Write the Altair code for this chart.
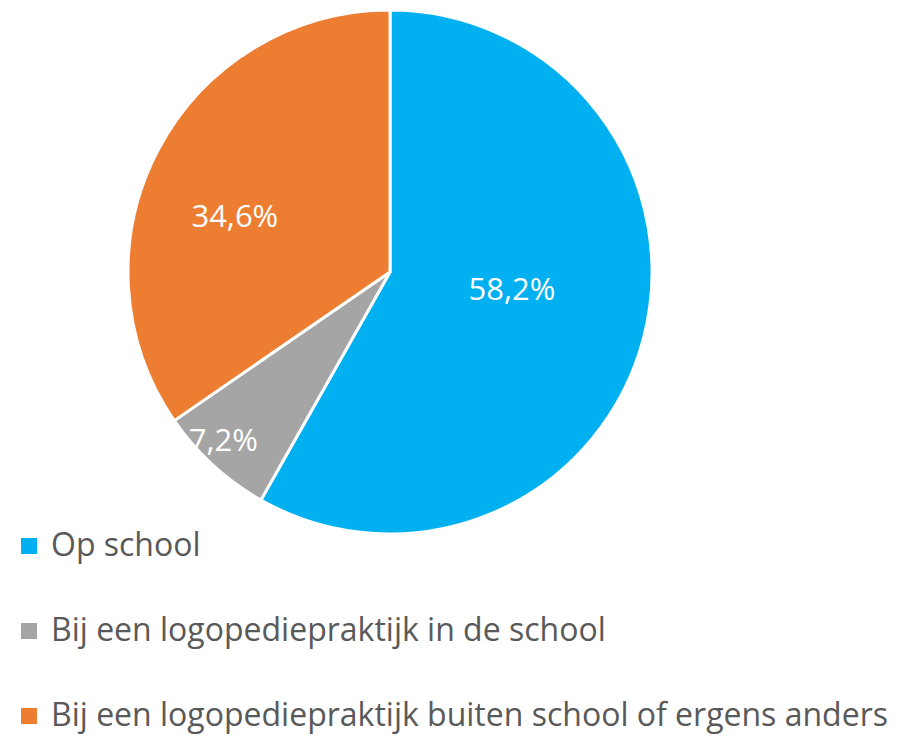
import altair as alt
import pandas as pd

categories = [
    "Op school",
    "Bij een logopediepraktijk in de school",
    "Bij een logopediepraktijk buiten school of ergens anders",
]
values = [58.2, 7.2, 34.6]
labels = ["58,2%", "7,2%", "34,6%"]
colors = ["#00B0F0", "#A5A5A5", "#ED7D31"]

df = pd.DataFrame({
    "cat": categories,
    "value": values,
    "label": labels,
    "idx": list(range(len(categories))),
})

FONT = "Open Sans"
theta_scale = alt.Scale(domain=[0, 100])

arc = alt.Chart(df).mark_arc(outerRadius=262, stroke="white", strokeWidth=3).encode(
    theta=alt.Theta("value:Q", stack=True, scale=theta_scale),
    order=alt.Order("idx:Q"),
    color=alt.Color(
        "cat:N",
        scale=alt.Scale(domain=categories, range=colors),
        sort=categories,
        legend=alt.Legend(
            title=None,
            orient="none",
            legendX=5,
            legendY=522,
            direction="vertical",
            symbolType="square",
            symbolSize=256,
            symbolStrokeWidth=0,
            labelFont=FONT,
            labelFontSize=32,
            labelColor="#595959",
            labelLimit=1000,
            rowPadding=53,
            labelOffset=6,
        ),
    ),
)

def label_layer(cat, radius, dx, dy):
    return alt.Chart(df).transform_window(
        cum="sum(value)", sort=[alt.SortField("idx")],
        frame=[None, 0],
    ).transform_calculate(
        mid="datum.cum - datum.value / 2"
    ).transform_filter(
        alt.datum.cat == cat
    ).mark_text(
        radius=radius, dx=dx, dy=dy, font=FONT, fontSize=31, color="white",
        align="center", baseline="middle",
    ).encode(
        theta=alt.Theta("mid:Q", stack=None, scale=theta_scale),
        text="label:N",
    )

chart = alt.layer(
    arc,
    label_layer(categories[0], 124, 2, -13),
    label_layer(categories[1], 238, -6, -6),
    label_layer(categories[2], 164, -10, 22),
).properties(
    width=764,
    height=528,
    padding={"left": 0, "top": 0, "right": 135, "bottom": 198},
    autosize=alt.AutoSizeParams(type="none"),
).configure_view(stroke=None)

chart.save("out.html", embed_options={"renderer": "svg", "actions": False})
